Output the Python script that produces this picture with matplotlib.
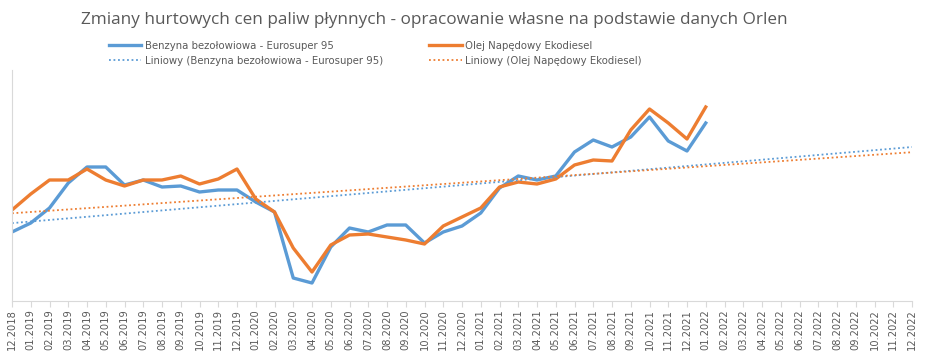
import numpy as np
import matplotlib.pyplot as plt

# miesiace na osi X: 12.2018 - 12.2022
months = ["12.2018"] + ["%02d.%d" % (m, y) for y in range(2019, 2023) for m in range(1, 13)]

# hurtowe ceny (PLN/m3 - przyblizenie)
benzyna = [3380, 3560, 3860, 4360, 4680, 4680, 4320, 4420, 4280, 4300, 4180, 4220, 4220,
           3980, 3780, 2460, 2360, 3080, 3460, 3380, 3520, 3520, 3160, 3380, 3500, 3760,
           4260, 4500, 4420, 4500, 4980, 5220, 5080, 5280, 5680, 5200, 5000, 5560]
diesel = [3820, 4140, 4420, 4420, 4640, 4420, 4300, 4420, 4420, 4500, 4340, 4440, 4640,
          4040, 3780, 3060, 2580, 3120, 3320, 3340, 3280, 3220, 3140, 3500, 3680, 3860,
          4280, 4380, 4340, 4440, 4720, 4820, 4800, 5420, 5840, 5560, 5240, 5880]

blue = "#5B9BD5"
orange = "#ED7D31"
grey = "#595959"

fig = plt.figure(figsize=(9.25, 3.54), dpi=100)
ax = fig.add_axes([12 / 925, 53 / 354, 900 / 925, 231 / 354])

x = np.arange(len(benzyna))
xall = np.arange(len(months))

# linie trendu (liniowy, z prognoza do konca osi)
a1, b1 = np.polyfit(x, benzyna, 1)
a2, b2 = np.polyfit(x, diesel, 1)

ax.plot(x, benzyna, color=blue, lw=2.4, label="Benzyna bezołowiowa - Eurosuper 95")
ax.plot(x, diesel, color=orange, lw=2.4, label="Olej Napędowy Ekodiesel")
ax.plot(xall, a1 * xall + b1, color=blue, lw=1.3, ls=(0, (1, 1.5)),
        label="Liniowy (Benzyna bezołowiowa - Eurosuper 95)")
ax.plot(xall, a2 * xall + b2, color=orange, lw=1.3, ls=(0, (1, 1.5)),
        label="Liniowy (Olej Napędowy Ekodiesel)")

ax.set_xlim(0, len(months) - 1)
ax.set_ylim(2000, 6620)
ax.set_xticks(xall)
ax.set_xticklabels(months, rotation=90, fontsize=7.1, color=grey)
ax.set_yticks([])
ax.tick_params(axis="x", length=4, color="#d9d9d9", pad=2)
for s in ["top", "right"]:
    ax.spines[s].set_visible(False)
ax.spines["left"].set_color("#d9d9d9")
ax.spines["bottom"].set_color("#d9d9d9")

fig.text(0.47, 0.944, "Zmiany hurtowych cen paliw płynnych - opracowanie własne na podstawie danych Orlen",
         ha="center", va="center", fontsize=12.3, color=grey, family="Open Sans")

h, l = ax.get_legend_handles_labels()
order = [0, 2, 1, 3]
fig.legend([h[i] for i in order], [l[i] for i in order], ncol=2, frameon=False,
           loc="upper left", bbox_to_anchor=(0.108, 0.91), fontsize=7.3,
           labelcolor=grey, handlelength=3.2, handletextpad=0.3,
           columnspacing=4.6, labelspacing=0.45)

fig.savefig("out.png", dpi=100)
